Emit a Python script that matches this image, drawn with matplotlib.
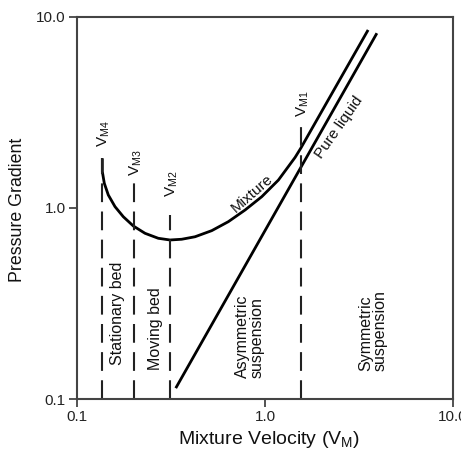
import matplotlib
matplotlib.use("Agg")
import matplotlib.pyplot as plt
import numpy as np

plt.rcParams['font.family'] = ['Liberation Sans', 'DejaVu Sans']
plt.rcParams['mathtext.fontset'] = 'custom'
plt.rcParams['mathtext.rm'] = 'Liberation Sans'

# mixture curve
mix_v = [0.1364, 0.1364, 0.1397, 0.1467, 0.1593, 0.1763, 0.1993, 0.2300, 0.2706, 0.3124,
         0.3604, 0.4243, 0.5205, 0.6379, 0.7827, 0.9603, 1.177, 1.444, 1.55, 2.387, 2.90, 3.53]
mix_dp = [1.82, 1.549, 1.347, 1.170, 1.016, 0.900, 0.805, 0.737, 0.694, 0.680,
          0.686, 0.707, 0.761, 0.848, 0.976, 1.146, 1.40, 1.84, 2.06, 4.35, 6.09, 8.55]

# pure liquid line
liq_v = [0.335, 3.93]
liq_dp = [0.114, 8.22]

# transition velocities and top of each dashed line
vm_names = ['M4', 'M3', 'M2', 'M1']
vm_x = [0.1364, 0.200, 0.313, 1.55]
vm_top = [1.82, 1.40, 0.92, 2.82]
vm_label_y = [2.08, 1.47, 1.14, 2.99]

regions = ['Stationary bed', 'Moving bed', 'Asymmetric\nsuspension', 'Symmetric\nsuspension']
region_x = [0.165, 0.26, 0.832, 3.75]
region_y = [0.282, 0.235, 0.214, 0.227]

ticks = [0.1, 1.0, 10.0]
tick_labels = ['0.1', '1.0', '10.0']

fig = plt.figure(figsize=(4.61, 4.5), dpi=100)
ax = fig.add_axes([0.167, 0.1133, 0.816, 0.849])

ax.set_xscale('log')
ax.set_yscale('log')
ax.set_xlim(0.1, 10)
ax.set_ylim(0.1, 10)

ax.plot(mix_v, mix_dp, color='black', lw=2.0, solid_capstyle='butt', solid_joinstyle='round')
ax.plot(liq_v, liq_dp, color='black', lw=2.0, solid_capstyle='butt')

for name, x, top, ly in zip(vm_names, vm_x, vm_top, vm_label_y):
    ax.plot([x, x], [0.1, top], color='#222222', lw=1.5, linestyle=(0, (9, 4.5)))
    ax.text(x * 1.02, ly, r'V$_{\mathrm{%s}}$' % name, rotation=90, ha='center', va='bottom',
            fontsize=11, color='#111111')

for lab, x, y in zip(regions, region_x, region_y):
    ax.text(x, y, lab, rotation=90, ha='center', va='center', multialignment='left',
            fontsize=11.5, color='#111111', linespacing=1.0)

ax.text(0.858, 1.19, 'Mixture', rotation=41, ha='center', va='center', fontsize=11,
        color='#111111', rotation_mode='anchor')
ax.text(2.48, 2.64, 'Pure liquid', rotation=55, ha='center', va='center', fontsize=11,
        color='#111111', rotation_mode='anchor')

ax.xaxis.set_major_locator(matplotlib.ticker.FixedLocator(ticks))
ax.yaxis.set_major_locator(matplotlib.ticker.FixedLocator(ticks))
ax.xaxis.set_minor_locator(matplotlib.ticker.NullLocator())
ax.yaxis.set_minor_locator(matplotlib.ticker.NullLocator())
ax.set_xticklabels(tick_labels)
ax.set_yticklabels(tick_labels)
ax.tick_params(which='major', direction='out', length=6, width=1.3, color='#444444',
               labelsize=11, labelcolor='#222222', pad=2)

for sp in ax.spines.values():
    sp.set_color('#444444')
    sp.set_linewidth(1.5)

ax.set_xlabel(r'Mixture Velocity (V$_{\mathrm{M}}$)', fontsize=14, color='#111111')
ax.set_ylabel('Pressure Gradient', fontsize=12.8, color='#111111')
ax.xaxis.set_label_coords(0.51, -0.078)
ax.yaxis.set_label_coords(-0.135, 0.495)

fig.savefig('out.png', dpi=100)
